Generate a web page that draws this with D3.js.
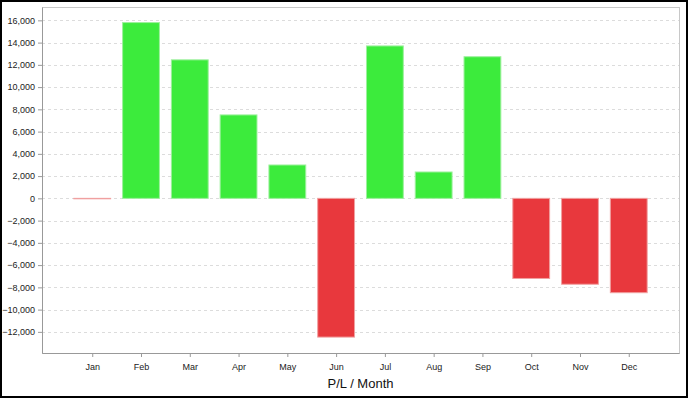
<!DOCTYPE html>
<html>
<head>
<meta charset="utf-8">
<script src="https://cdn.jsdelivr.net/npm/d3@7"></script>
<style>
  body { margin: 0; background: #fff; }
  svg { display: block; font-family: "Liberation Sans", Arial, sans-serif; }
</style>
</head>
<body>
<div id="chart"></div>
<script>
const months = ["Jan", "Feb", "Mar", "Apr", "May", "Jun", "Jul", "Aug", "Sep", "Oct", "Nov", "Dec"];
const pl = [-40, 15800, 12450, 7500, 3000, -12470, 13700, 2370, 12730, -7200, -7720, -8480];
const yTicks = [-12000, -10000, -8000, -6000, -4000, -2000, 0, 2000, 4000, 6000, 8000, 10000, 12000, 14000, 16000];

const W = 688, H = 398;
const margin = { top: 7, right: 9, bottom: 45, left: 42 },
    width = W - margin.left - margin.right,
    height = H - margin.top - margin.bottom;

const svg = d3.select("#chart")
    .append("svg")
    .attr("width", W)
    .attr("height", H);

// outer black frame
svg.append("rect")
    .attr("x", 1).attr("y", 1)
    .attr("width", W - 2).attr("height", H - 2)
    .attr("fill", "#fff")
    .attr("stroke", "#000")
    .attr("stroke-width", 2);

const g = svg.append("g")
    .attr("transform", `translate(${margin.left},${margin.top})`);

const x = d3.scalePoint()
    .domain(months)
    .range([0, width])
    .padding(1.03);

const y = d3.scaleLinear()
    .domain([-13900, 17200])
    .range([height, 0]);

const barW = x.step() * 0.755;

// grid
g.append("g")
    .selectAll("line")
    .data(yTicks)
    .join("line")
    .attr("x1", 0)
    .attr("x2", width)
    .attr("y1", d => Math.round(y(d)) + 0.5)
    .attr("y2", d => Math.round(y(d)) + 0.5)
    .attr("stroke", "#dcdcdc")
    .attr("stroke-dasharray", "3,3");

// plot frame (top/right light)
g.append("rect")
    .attr("x", 0.5).attr("y", 0.5)
    .attr("width", width).attr("height", height)
    .attr("fill", "none")
    .attr("stroke", "#c8c8c8");

// bars
g.append("g")
    .selectAll("rect")
    .data(months.map((m, i) => ({ month: m, value: pl[i] })))
    .join("rect")
    .attr("x", d => x(d.month) - barW / 2)
    .attr("y", d => y(Math.max(0, d.value)))
    .attr("width", barW)
    .attr("height", d => Math.abs(y(d.value) - y(0)))
    .attr("fill", d => d.value >= 0 ? "#3ceb3c" : "#e8383d")
    .attr("stroke", d => d.value >= 0 ? "#9df09d" : "#f0a0a0")
    .attr("stroke-width", 1);

// y axis
const yAxis = g.append("g")
    .call(d3.axisLeft(y).tickValues(yTicks).tickSizeInner(4).tickSizeOuter(0).tickPadding(3).tickFormat(d3.format(",")));
yAxis.select(".domain").attr("stroke", "#999");
yAxis.selectAll(".tick line").attr("stroke", "#999");
yAxis.selectAll("text").attr("font-size", 9).attr("fill", "#222")
    .attr("font-family", "'Liberation Sans', Arial, sans-serif");

// x axis
const xAxis = g.append("g")
    .attr("transform", `translate(0,${height})`)
    .call(d3.axisBottom(x).tickSizeInner(4).tickSizeOuter(0).tickPadding(7));
xAxis.select(".domain").attr("stroke", "#999");
xAxis.selectAll(".tick line").attr("stroke", "#999");
xAxis.selectAll("text").attr("font-size", 9).attr("fill", "#222")
    .attr("font-family", "'Liberation Sans', Arial, sans-serif");

// axis title
g.append("text")
    .attr("x", width / 2)
    .attr("y", height + 35)
    .attr("text-anchor", "middle")
    .attr("font-size", 13)
    .attr("fill", "#111")
    .text("P/L / Month");
</script>
</body>
</html>
